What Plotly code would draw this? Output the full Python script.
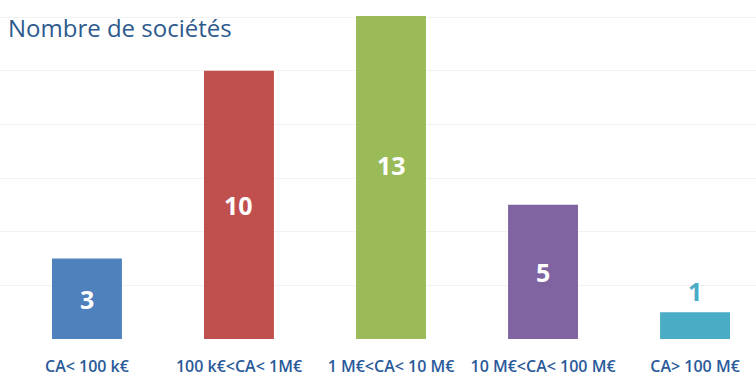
import plotly.graph_objects as go

categories = ["CA< 100 k€", "100 k€<CA< 1M€", "1 M€<CA< 10 M€", "10 M€<CA< 100 M€", "CA> 100 M€"]
values = [3, 10, 13, 5, 1]
colors = ["#4F81BD", "#C0504D", "#9BBB59", "#8064A2", "#4BACC6"]
label_inside = [True, True, True, True, False]
title_text = "Nombre de sociétés"

fig = go.Figure()
fig.add_trace(go.Bar(
    x=categories, y=values, marker=dict(color=colors, line=dict(width=0)),
    width=0.46, hoverinfo="skip",
))

for cat, v, c, inside in zip(categories, values, colors, label_inside):
    if inside:
        fig.add_annotation(x=cat, y=v / 2, text=f"<b>{v}</b>", showarrow=False,
                           font=dict(family="Open Sans", size=25, color="white"),
                           xanchor="center", yanchor="middle")
    else:
        fig.add_annotation(x=cat, y=v, text=f"<b>{v}</b>", showarrow=False,
                           font=dict(family="Open Sans", size=25, color=c),
                           xanchor="center", yanchor="bottom", yshift=2)

fig.add_annotation(xref="paper", yref="paper", x=0.008, y=1.0, text=title_text,
                   showarrow=False, xanchor="left", yanchor="middle", yshift=-11,
                   font=dict(family="Open Sans", size=24, color="#2D5A8E"))

fig.update_layout(
    width=756, height=376,
    margin=dict(l=0, r=0, t=16, b=37),
    paper_bgcolor="white", plot_bgcolor="white",
    showlegend=False,
    xaxis=dict(range=[-0.572, 4.401], showgrid=False, zeroline=False, showline=False,
               ticks="", tickfont=dict(family="Open Sans", size=16, color="#2A5A9A",
                                       weight=600), ticklabelstandoff=16),
    yaxis=dict(range=[0, 12.04], tickvals=[2, 4, 6, 8, 10, 12], showgrid=True,
               gridcolor="#F2F2F2", gridwidth=1,
               showticklabels=False, zeroline=False, showline=False, fixedrange=True),
)

fig.write_html("out.html")
